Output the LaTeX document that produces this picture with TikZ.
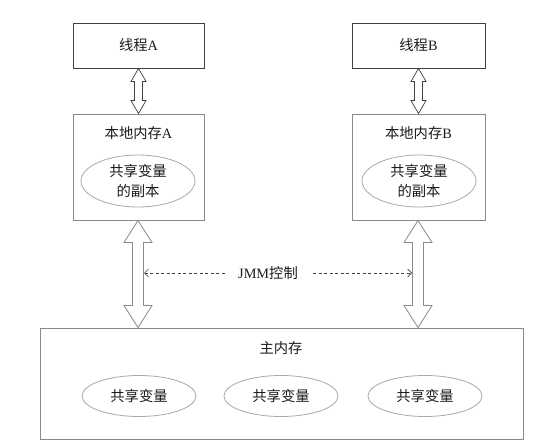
\documentclass[tikz,border=0pt]{standalone}
\usepackage{fontspec}
\setmainfont{Liberation Serif}
\newfontfamily\cjk{Noto Sans CJK SC}
\usetikzlibrary{shapes.geometric,calc,arrows.meta}
\definecolor{txt}{HTML}{1A1A1A}
\definecolor{dk}{HTML}{404040}
\definecolor{md}{HTML}{8A8A8A}
\definecolor{lt}{HTML}{A8A8A8}
\newcommand{\dblarr}[6]{%
  \draw[#1] (#2) -- ($(#2)+(#5,#6)$) -- ($(#2)+(#4,#6)$) -- ($(#3)+(#4,-#6)$) -- ($(#3)+(#5,-#6)$) -- (#3)
    -- ($(#3)+(-#5,-#6)$) -- ($(#3)+(-#4,-#6)$) -- ($(#2)+(-#4,#6)$) -- ($(#2)+(-#5,#6)$) -- cycle;}
\begin{document}
\begin{tikzpicture}[x=1pt,y=-1pt,
  every node/.style={text=txt,font=\fontsize{14.3}{19.5}\selectfont},
  thbox/.style={draw=dk,line width=0.9pt,rectangle,minimum width=131pt,minimum height=45pt,inner sep=0pt},
  membox/.style={draw=md,line width=0.9pt,rectangle,inner sep=0pt},
  var/.style={draw=lt,line width=0.8pt,ellipse,inner sep=0pt,align=center},
  smallarr/.style={draw=dk,line width=0.7pt,fill=white},
  bigarr/.style={draw=md,line width=0.8pt,fill=white},
  ctrl/.style={draw=dk,line width=0.6pt,dash pattern=on 3pt off 2.5pt,-{Straight Barb[length=4pt,width=8pt]}}]
\useasboundingbox (0,0) rectangle (537,446);
% threads
\node[thbox] (thA) at (138.5,45.5) {{\cjk 线程}A};
\node[thbox,minimum width=133pt] (thB) at (418.5,45.5) {{\cjk 线程}B};
% local memories
\node[membox,minimum width=131pt,minimum height=106pt] (locA) at (138.5,167) {};
\node[membox,minimum width=133pt,minimum height=106pt] (locB) at (418.5,167) {};
\node (locAt) at (138.5,133) {{\cjk 本地内存}A};
\node (locBt) at (418.5,133) {{\cjk 本地内存}B};
\node[var,minimum width=114pt,minimum height=52pt] (cpA) at (138,181) {\cjk 共享变量\\\cjk 的副本};
\node[var,minimum width=114pt,minimum height=52pt] (cpB) at (419,181) {\cjk 共享变量\\\cjk 的副本};
% main memory
\node[membox,minimum width=483pt,minimum height=111pt] (main) at (281.5,383.5) {};
\node (maint) at (281,348) {\cjk 主内存};
\node[var,minimum width=114pt,minimum height=41pt] (v1) at (139,396) {\cjk 共享变量};
\node[var,minimum width=114pt,minimum height=41pt] (v2) at (281,396) {\cjk 共享变量};
\node[var,minimum width=114pt,minimum height=41pt] (v3) at (425,396) {\cjk 共享变量};
% small arrows
\dblarr{smallarr}{thA.south}{locA.north}{4}{7.5}{13}
\dblarr{smallarr}{thB.south}{locB.north}{4}{7.5}{13}
% big arrows
\coordinate (mA) at ($(locA.south)+(-0.5,0)$);
\coordinate (mB) at ($(locB.south)+(-0.5,0)$);
\coordinate (mA2) at (mA |- main.north);
\coordinate (mB2) at (mB |- main.north);
\dblarr{bigarr}{mA}{mA2}{5.5}{14}{22}
\dblarr{bigarr}{mB}{mB2}{5.5}{14}{22}
% JMM control
\node (jmm) at (268,273) {JMM{\cjk 控制}};
\coordinate (cL) at ($(mA |- jmm)+(6,0)$);
\coordinate (cR) at ($(mB |- jmm)+(-6,0)$);
\draw[ctrl] ($(jmm.west)+(-10,0)$) -- (cL);
\draw[ctrl] ($(jmm.east)+(12,0)$) -- (cR);
\end{tikzpicture}
\end{document}
